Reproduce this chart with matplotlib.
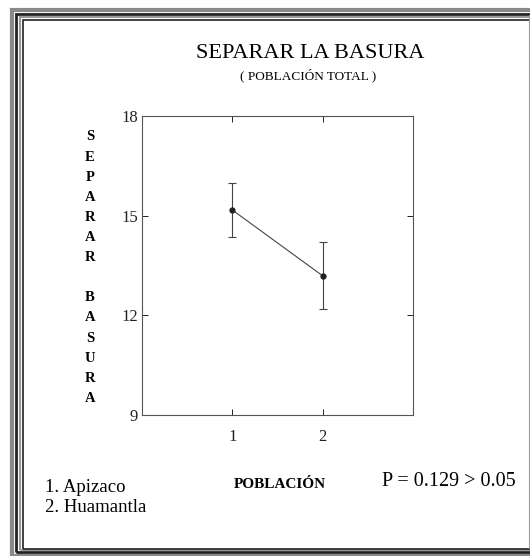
import matplotlib.pyplot as plt
from matplotlib.patches import Rectangle
from matplotlib.lines import Line2D

# data
poblacion = [1, 2]
media = [15.17, 13.19]
err_sup = [15.99, 14.21]
err_inf = [14.36, 12.18]
nombres = ["1. Apizaco", "2. Huamantla"]
yticks = [9, 12, 15, 18]

W, H = 530, 556
plt.rcParams['font.family'] = ['Liberation Serif', 'DejaVu Serif']

fig = plt.figure(figsize=(W / 100, H / 100), dpi=100)


def px(x, y):
    # pixel coords (top-left origin) -> figure fraction
    return x / W, 1 - y / H


def frame(x0, y0, x1, y1, lw, color):
    (a, b), (c, d) = px(x0, y1), px(x1, y0)
    fig.add_artist(Rectangle((a, b), c - a, d - b, transform=fig.transFigure,
                             fill=False, lw=lw, ec=color))


# double border
frame(12, 10, 600, 556, 3, '#8a8a8a')
frame(16, 14, 600, 552, 2, '#222222')
frame(19.5, 17, 600, 550, 1.5, '#9a9a9a')
frame(22.5, 19.5, 600, 548.5, 1.2, '#222222')
a, b = px(529, 15)
c, d = px(529, 548)
fig.add_artist(Line2D([a, c], [b, d], transform=fig.transFigure, lw=0.8, color='#999999'))

# axes
l, t = px(142, 116)
r, bt = px(413, 415)
ax = fig.add_axes([l, bt, r - l, t - bt])
yerr = [[m - lo for m, lo in zip(media, err_inf)],
        [hi - m for m, hi in zip(media, err_sup)]]
ax.errorbar(poblacion, media, yerr=yerr, color='#444444', lw=0.8,
            elinewidth=0.8, capsize=3, capthick=0.8, marker='o', ms=3.5,
            mfc='#222222', mec='#222222')
ax.set_xlim(0, 3)
ax.set_ylim(9, 18)
ax.set_xticks(poblacion)
ax.set_yticks(yticks)
ax.tick_params(direction='in', top=True, right=True, length=4, width=0.7,
               labelsize=12, colors='#222222')
ax.tick_params(axis='x', pad=10)
ax.tick_params(axis='y', pad=3)
for s in ax.spines.values():
    s.set_linewidth(0.8)
    s.set_color('#555555')

# titles
x, y = px(310, 53)
fig.text(x, y, "SEPARAR LA BASURA", ha='center', va='center', fontsize=16)
x, y = px(308, 75)
fig.text(x, y, "( POBLACIÓN TOTAL )", ha='center', va='center', fontsize=9.5)

# stacked y label
letras = list("SEPARAR") + [""] + list("BASURA")
for i, ch in enumerate(letras):
    x, y = px(90, 137 + i * 20.1)
    fig.text(x, y, ch, ha='center', va='center', fontsize=10.5, fontweight='bold')

# bottom texts
x, y = px(45, 488)
fig.text(x, y, nombres[0], ha='left', va='center', fontsize=13.5)
x, y = px(45, 507)
fig.text(x, y, nombres[1], ha='left', va='center', fontsize=13.5)
x, y = px(280, 485)
fig.text(x, y, "POBLACIÓN", ha='center', va='center', fontsize=11, fontweight='bold')
x, y = px(382, 482)
fig.text(x, y, "P = 0.129 > 0.05", ha='left', va='center', fontsize=14.5)

fig.savefig("out.png", dpi=100)
